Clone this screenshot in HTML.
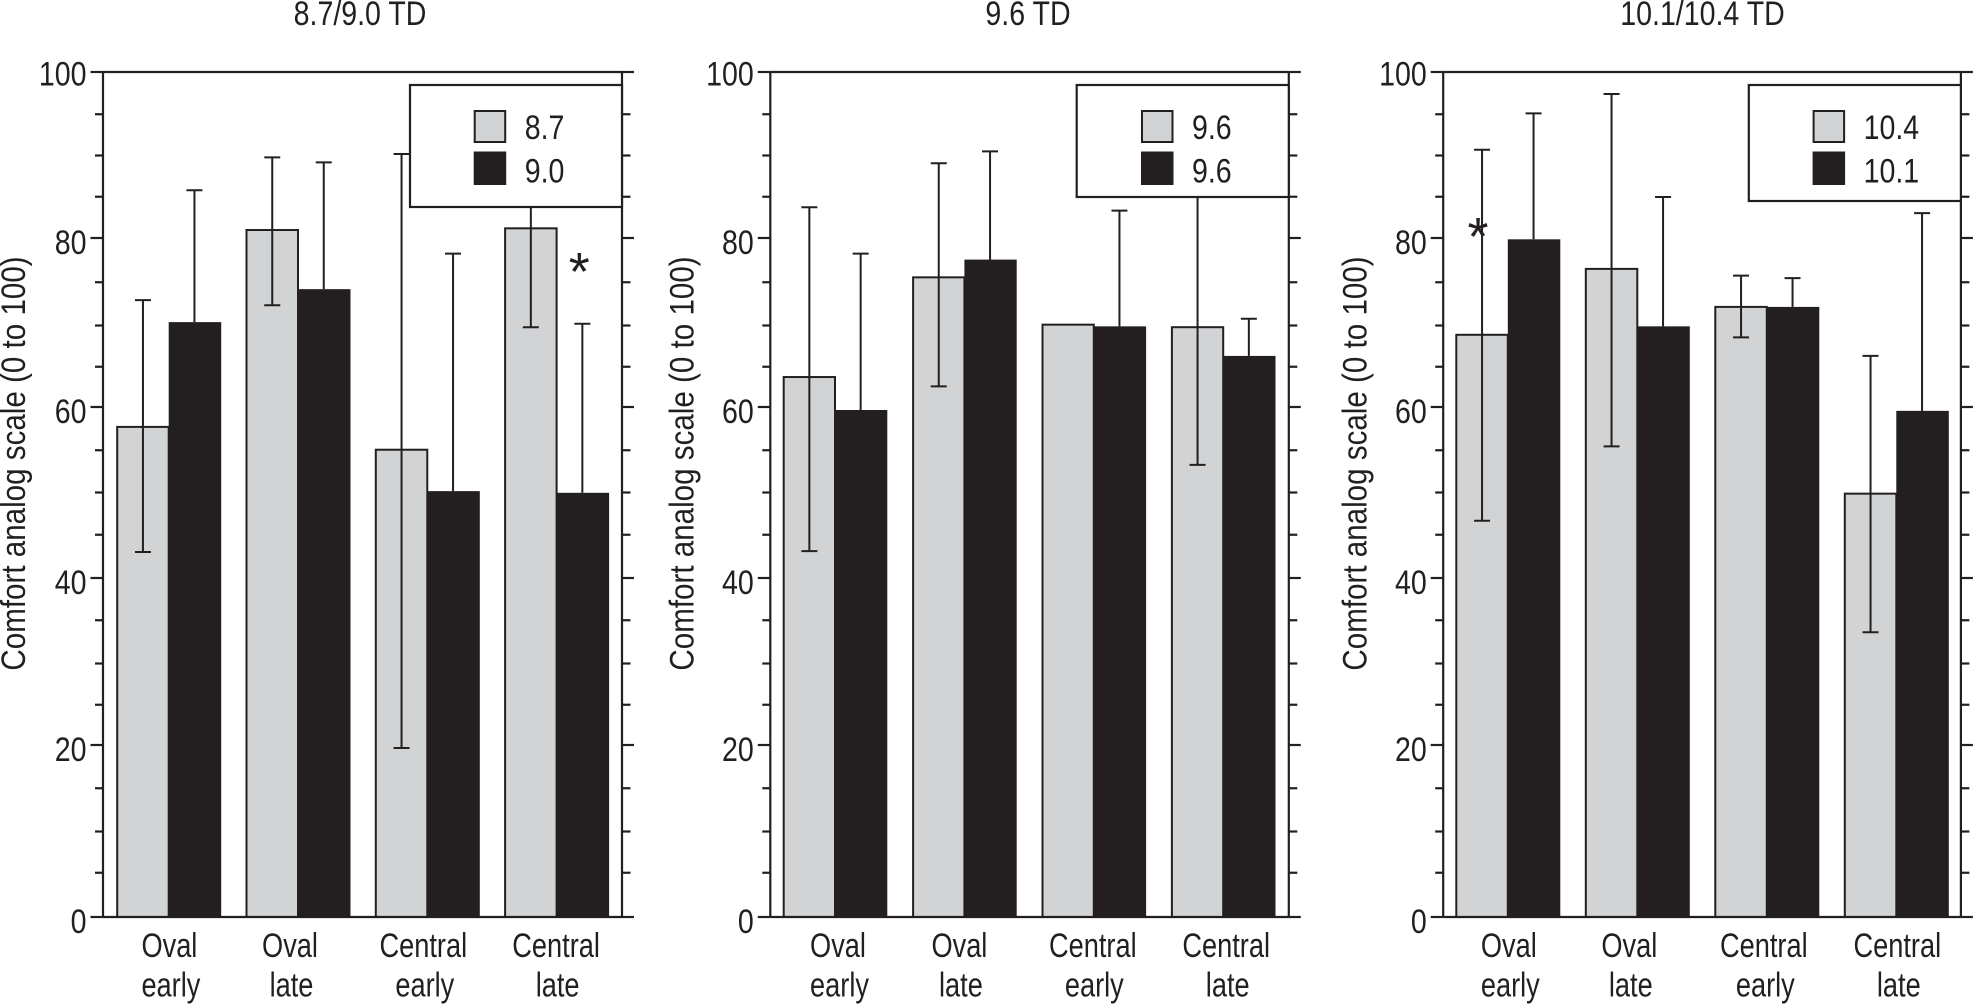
<!DOCTYPE html>
<html lang="en">
<head>
<meta charset="utf-8">
<title>Comfort analog scale by lens design</title>
<style>
html,body{margin:0;padding:0;background:#fff;width:1974px;height:1004px;overflow:hidden}
svg{display:block}
text{font-family:"Liberation Sans",sans-serif;fill:#231f20}
</style>
</head>
<body>
<svg id="figure" xmlns="http://www.w3.org/2000/svg" width="1974" height="1004" viewBox="0 0 1974 1004"></svg>
<script>
const categoryTop = ['Oval', 'Oval', 'Central', 'Central'];
const categoryBottom = ['early', 'late', 'early', 'late'];
const tickMajor = [0, 20, 40, 60, 80, 100];
const tickMinor = [5, 10, 15, 25, 30, 35, 45, 50, 55, 65, 70, 75, 85, 90, 95];

const titleA = '8.7/9.0 TD';
const legendA = ['8.7', '9.0'];
const greyA = [58.0, 81.3, 55.3, 81.5];
const blackA = [70.4, 74.3, 50.4, 50.2];
const greyUpperA = [73.0, 89.9, 90.3, 93.0];
const greyLowerA = [43.2, 72.4, 20.0, 69.8];
const blackUpperA = [86.0, 89.3, 78.5, 70.2];

const titleB = '9.6 TD';
const legendB = ['9.6', '9.6'];
const greyB = [63.9, 75.7, 70.1, 69.8];
const blackB = [60.0, 77.8, 69.9, 66.4];
const greyUpperB = [84.0, 89.2, null, 86.0];
const greyLowerB = [43.3, 62.8, null, 53.5];
const blackUpperB = [78.5, 90.6, 83.6, 70.8];

const titleC = '10.1/10.4 TD';
const legendC = ['10.4', '10.1'];
const greyC = [68.9, 76.7, 72.2, 50.1];
const blackC = [80.2, 69.9, 72.2, 59.9];
const greyUpperC = [90.8, 97.4, 75.9, 66.4];
const greyLowerC = [46.9, 55.7, 68.6, 33.7];
const blackUpperC = [95.1, 85.2, 75.6, 83.3];

const yAxisTitle = 'Comfort analog scale (0 to 100)';
const svg = document.getElementById('figure');
const NS = 'http://www.w3.org/2000/svg';
const INK = '#231f20', GREY = '#d1d3d4';
const Y0 = 917, PX_PER_UNIT = 8.45, FONT = 34, SX_NUM = 0.84, SX_WORD = 0.8;
function yScale(v) { return Y0 - v * PX_PER_UNIT; }
// The printed tick marks are slightly irregular relative to the linear scale.
function tickDrift(v) {
  const drift = { 95: 0, 90: -1, 85: -2, 80: -3, 75: -1, 70: 0, 65: -1, 60: -3, 55: -2, 50: -2, 45: -2, 40: -1, 35: -1, 30: 0, 25: -1, 20: -3, 15: -2, 10: -1, 5: -2 };
  return drift[v] || 0;
}
function yTick(v) { return yScale(v) + tickDrift(v); }

function make(parent, tag, attrs) {
  const el = document.createElementNS(NS, tag);
  for (const k in attrs) el.setAttribute(k, attrs[k]);
  parent.appendChild(el);
  return el;
}
function line(parent, x1, y1, x2, y2, w) {
  return make(parent, 'line', { x1, y1, x2, y2, stroke: INK, 'stroke-width': w || 2.2 });
}
function label(parent, str, x, y, anchor, sx) {
  const el = make(parent, 'text', {
    transform: 'translate(' + x + ' ' + y + ') scale(' + sx + ' 1)',
    'text-anchor': anchor, 'font-size': FONT
  });
  el.textContent = str;
  return el;
}

function drawPanel(p) {
  const g = make(svg, 'g', {});
  
  

  const title = label(g, p.title, p.titleX, 25, 'middle', SX_NUM);
  
  

  const yt = make(g, 'text', {
    transform: 'translate(' + p.yTitleX + ' 463.5) rotate(-90) scale(0.87 1)',
    'text-anchor': 'middle', 'font-size': 34
  });
  yt.textContent = yAxisTitle;
  
  

  const step = p.step, barW = p.barW;
  const barLeft = i => p.left + p.firstBar + i * step;

  p.grey.forEach((v, i) => {
    const x = barLeft(i);
    const r = make(g, 'rect', { x: x, y: yScale(v), width: barW, height: yScale(0) - yScale(v), fill: GREY, stroke: INK, 'stroke-width': 2 });
    
    
  });
  p.black.forEach((v, i) => {
    const x = barLeft(i) + barW;
    const r = make(g, 'rect', { x: x, y: yScale(v), width: barW + 1, height: yScale(0) - yScale(v), fill: INK });
    
    
  });

  p.greyUpper.forEach((u, i) => {
    if (u === null) return;
    const cx = barLeft(i) + barW / 2;
    const eb = make(g, 'g', {});
    
    
    line(eb, cx, yScale(u), cx, yScale(p.greyLower[i]), 2);
    line(eb, cx - 8, yScale(u), cx + 8, yScale(u), 2);
    line(eb, cx - 8, yScale(p.greyLower[i]), cx + 8, yScale(p.greyLower[i]), 2);
  });
  p.blackUpper.forEach((u, i) => {
    const cx = barLeft(i) + barW * 1.5;
    const eb = make(g, 'g', {});
    
    
    line(eb, cx, yScale(u), cx, yScale(p.black[i]), 2);
    line(eb, cx - 8, yScale(u), cx + 8, yScale(u), 2);
  });

  const axes = make(g, 'g', {});
  
  
  line(axes, p.left, yScale(100), p.left, yScale(0));
  line(axes, p.right, yScale(100), p.right, yScale(0));
  tickMajor.forEach(v => {
    line(axes, p.left - 12.5, yTick(v), p.left, yTick(v));
    line(axes, p.right, yTick(v), p.right + 12, yTick(v));
    if (v === 0 || v === 100) line(axes, p.left, yTick(v), p.right, yTick(v));
    const off = v === 100 ? 13.3 : 16;
    const t = label(axes, String(v), p.left - 16.5, yTick(v) + off, 'end', SX_NUM);
    
    
  });
  tickMinor.forEach(v => {
    line(axes, p.left - 8, yTick(v), p.left, yTick(v));
    line(axes, p.right, yTick(v), p.right + 8.5, yTick(v));
  });

  categoryTop.forEach((c, i) => {
    const cx = barLeft(i) + barW + p.labelNudge[i];
    const t1 = label(g, c, cx, 957, 'middle', SX_WORD);
    
    
    const t2 = label(g, categoryBottom[i], cx + 1.5, 996.7, 'middle', SX_WORD);
    
    
  });

  const lg = make(g, 'g', {});
  
  
  make(lg, 'rect', { x: p.legendX, y: 85, width: p.right - p.legendX, height: p.legendH, fill: '#fff', stroke: INK, 'stroke-width': 2.2 });
  p.legend.forEach((s, i) => {
    const sw = make(lg, 'rect', { x: p.swatchX, y: i === 0 ? 111 : 152.5, width: 30.5, height: i === 0 ? 31 : 31.5, fill: i === 0 ? GREY : INK, stroke: INK, 'stroke-width': 2 });
    
    
    const t = label(lg, s, p.swatchX + 50, i === 0 ? 139 : 182.7, 'start', SX_NUM);
    
    
  });

  if (p.star) {
    const a = make(g, 'text', { x: p.star[0], y: p.star[1] + 27, 'text-anchor': 'middle', 'font-size': 54 });
    a.textContent = '*';
    
    
  }
}

drawPanel({ id: 'a', title: titleA, grey: greyA, black: blackA, greyUpper: greyUpperA, greyLower: greyLowerA, blackUpper: blackUpperA, legend: legendA,
  left: 103, right: 622, firstBar: 14.2, step: 129.3, barW: 51.5, titleX: 360, yTitleX: 25,
  labelNudge: [0.7, -8, -4, -0.5], legendX: 410, legendH: 122, swatchX: 474.7, star: [579.3, 263] });
drawPanel({ id: 'b', title: titleB, grey: greyB, black: blackB, greyUpper: greyUpperB, greyLower: greyLowerB, blackUpper: blackUpperB, legend: legendB,
  left: 770.3, right: 1288.8, firstBar: 13.4, step: 129.4, barW: 51.3, titleX: 1028, yTitleX: 693.7,
  labelNudge: [3, -5, -1, 3], legendX: 1076.7, legendH: 112, swatchX: 1142, star: null });
drawPanel({ id: 'c', title: titleC, grey: greyC, black: blackC, greyUpper: greyUpperC, greyLower: greyLowerC, blackUpper: blackUpperC, legend: legendC,
  left: 1443.2, right: 1960.9, firstBar: 13.1, step: 129.5, barW: 51.5, titleX: 1702.5, yTitleX: 1366.6,
  labelNudge: [1, -8, -3, 1], legendX: 1748.8, legendH: 116, swatchX: 1813.6, star: [1478, 228] });
</script>
</body>
</html>
